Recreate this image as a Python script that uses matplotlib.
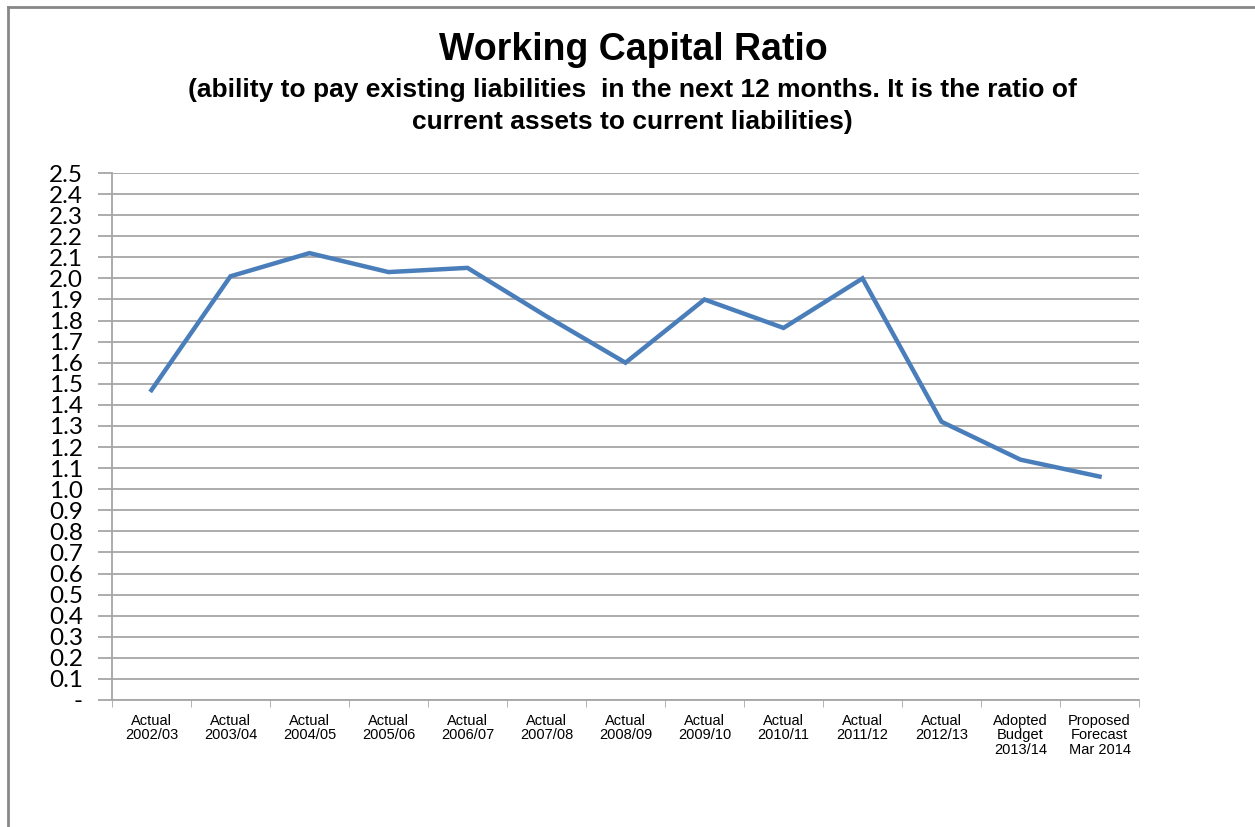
import numpy as np
import matplotlib.pyplot as plt
from matplotlib.lines import Line2D

plt.rcParams['font.family'] = ['Liberation Sans', 'DejaVu Sans']

""" Chart data """

categories = ['Actual\n2002/03', 'Actual\n2003/04', 'Actual\n2004/05', 'Actual\n2005/06',
              'Actual\n2006/07', 'Actual\n2007/08', 'Actual\n2008/09', 'Actual\n2009/10',
              'Actual\n2010/11', 'Actual\n2011/12', 'Actual\n2012/13',
              'Adopted\nBudget\n2013/14', 'Proposed\nForecast\nMar 2014']
ratios = [1.47, 2.01, 2.12, 2.03, 2.05, 1.82, 1.60, 1.90, 1.765, 2.00, 1.32, 1.14, 1.06]
yTicks = [0.0, 0.1, 0.2, 0.3, 0.4, 0.5, 0.6, 0.7, 0.8, 0.9, 1.0, 1.1, 1.2,
          1.3, 1.4, 1.5, 1.6, 1.7, 1.8, 1.9, 2.0, 2.1, 2.2, 2.3, 2.4, 2.5]
yTickLabels = ['-'] + ['%.1f' % v for v in yTicks[1:]]

""" Figure """

fig = plt.figure(figsize=(12.55, 8.27), dpi=100)
ax = fig.add_axes([0.0892, 0.1536, 0.8184, 0.6372])

xPos = np.arange(len(categories))
ax.plot(xPos, ratios, color='#4A7EBB', linewidth=3.2, solid_joinstyle='miter', zorder=3)

ax.set_xlim(-0.5, len(categories) - 0.5)
ax.set_ylim(0, 2.5)
ax.set_yticks(yTicks)
ax.set_yticklabels(yTickLabels, fontsize=17.5, family=['Lato', 'DejaVu Sans'])
ax.yaxis.grid(True, color='#A6A6A6', linewidth=1.3)
ax.set_axisbelow(True)

# categories labelled at centres, tick marks at boundaries
ax.set_xticks(xPos)
ax.set_xticklabels(categories, fontsize=10.5, linespacing=1.05)
ax.set_xticks(np.arange(len(categories) + 1) - 0.5, minor=True)
ax.tick_params(axis='x', which='major', length=0, pad=10)
ax.tick_params(axis='x', which='minor', length=5, color='#A6A6A6', direction='out')
ax.tick_params(axis='y', length=10, color='#A6A6A6', width=1.3, pad=11)

for side in ['top', 'right']:
    ax.spines[side].set_visible(False)
for side in ['left', 'bottom']:
    ax.spines[side].set_color('#A6A6A6')
    ax.spines[side].set_linewidth(1.3)

fig.text(0.505, 0.9395, 'Working Capital Ratio', ha='center', va='center',
         fontsize=27, fontweight='bold')
fig.text(0.504, 0.891, '(ability to pay existing liabilities  in the next 12 months. It is the ratio of',
         ha='center', va='center', fontsize=19, fontweight='bold')
fig.text(0.504, 0.852, 'current assets to current liabilities)',
         ha='center', va='center', fontsize=19, fontweight='bold')

# chart frame (top and left edge visible)
fig.add_artist(Line2D([0.0064, 1.0], [0.9915, 0.9915], color='#888888', linewidth=2, transform=fig.transFigure))
fig.add_artist(Line2D([0.0064, 0.0064], [0.0, 0.9915], color='#888888', linewidth=2, transform=fig.transFigure))

plt.savefig('out.png', dpi=100)
